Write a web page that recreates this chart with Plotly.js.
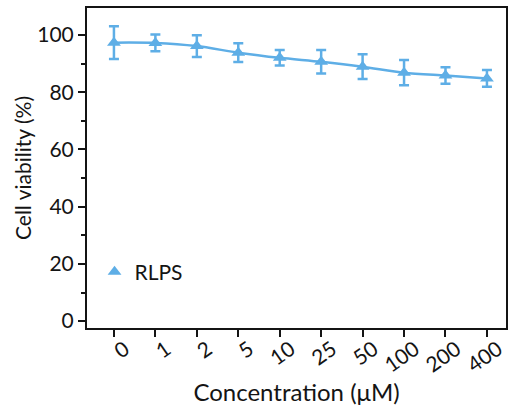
<!DOCTYPE html>
<html>
<head>
<meta charset="utf-8">
<script src="https://cdn.plot.ly/plotly-3.0.1.min.js"></script>
<style>html,body{margin:0;padding:0;background:#fff;}#chart{width:510px;height:406px;}</style>
</head>
<body>
<div id="chart"></div>
<script>
var concentrations = ['0', '1', '2', '5', '10', '25', '50', '100', '200', '400'];
var viability = [97.3, 97.2, 96.1, 93.8, 92.0, 90.6, 88.9, 86.8, 85.8, 84.8];
var viabilityErr = [5.7, 2.95, 3.8, 3.3, 2.7, 4.1, 4.3, 4.4, 2.9, 2.9];
var seriesName = 'RLPS';
var yTicks = [0, 20, 40, 60, 80, 100];

var color = '#5eaee6';
var fontFam = 'Lato, "Open Sans", sans-serif';
var ink = '#141414';

var traces = [
  {
    x: concentrations, y: viability, type: 'scatter', mode: 'lines',
    line: {color: color, width: 2.5, shape: 'spline', smoothing: 0.8},
    showlegend: false, hoverinfo: 'skip'
  },
  {
    x: concentrations, y: viability, type: 'scatter', mode: 'markers', name: seriesName,
    marker: {symbol: 'triangle-up', size: 12, color: color},
    error_y: {type: 'data', array: viabilityErr, visible: true, color: color, thickness: 2.5, width: 5}
  }
];

var layout = {
  width: 510, height: 406,
  margin: {l: 87, r: 4, t: 8, b: 78},
  paper_bgcolor: '#fff', plot_bgcolor: '#fff',
  font: {family: fontFam, color: ink, size: 21},
  showlegend: true,
  legend: {x: 0.018, y: 0.175, xanchor: 'left', yanchor: 'middle', bgcolor: 'rgba(0,0,0,0)',
           itemwidth: 30, font: {size: 21, family: fontFam, color: ink}},
  xaxis: {
    type: 'category', range: [-0.65, 9.46],
    showline: true, linecolor: ink, linewidth: 2, mirror: true,
    ticks: 'outside', ticklen: 7, tickwidth: 2, tickcolor: ink,
    tickangle: -35, ticklabelshift: 11, ticklabelstandoff: -8,
    tickfont: {size: 21, family: fontFam, color: ink},
    showgrid: false, zeroline: false,
    title: {text: 'Concentration (μM)', font: {size: 24, family: fontFam, color: ink}, standoff: 0}
  },
  yaxis: {
    range: [-2.4, 109.4], tickvals: yTicks,
    showline: true, linecolor: ink, linewidth: 2, mirror: true,
    ticks: 'outside', ticklen: 7, tickwidth: 2, tickcolor: ink,
    tickfont: {size: 21, family: fontFam, color: ink},
    minor: {dtick: 10, tick0: 10, ticks: 'outside', ticklen: 4, tickwidth: 2, tickcolor: ink, showgrid: false},
    showgrid: false, zeroline: false,
    title: {text: 'Cell viability (%)', font: {size: 21, family: fontFam, color: ink}, standoff: 0}
  }
};

Plotly.newPlot('chart', traces, layout, {displayModeBar: false, staticPlot: true});
</script>
</body>
</html>
